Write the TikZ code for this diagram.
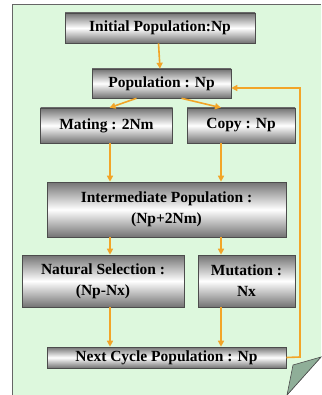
\documentclass[tikz,border=0pt]{standalone}
\usepackage{fontspec}
\setmainfont{Liberation Serif}
\usetikzlibrary{arrows.meta}
\definecolor{pagegreen}{HTML}{DDF8DD}
\definecolor{arr}{HTML}{F2A528}
\definecolor{foldc}{HTML}{8FAE98}
\tikzset{
  box/.style={draw=black!70, line width=0.6pt, top color=black!55, bottom color=black!55, middle color=white,
    font=\bfseries\fontsize{15.5}{17}\selectfont, align=center, inner sep=0pt},
  flow/.style={draw=arr, line width=1.6pt, -{Triangle[length=6pt,width=6pt]}}
}
\begin{document}
\begin{tikzpicture}[x=1pt,y=-1pt]
\useasboundingbox (0,0) rectangle (321,395);
% page
\fill[pagegreen] (12,5) -- (321,5) -- (321,357) -- (287,395) -- (12,395) -- cycle;
\draw[black!60, line width=1pt] (12,395) -- (12,5) -- (321,5);
\draw[black!60, line width=0.6pt] (321,357) -- (287,395);
\filldraw[fill=foldc, draw=black!70, line width=0.6pt] (321,357) -- (293,365) -- (287,395) -- cycle;
% boxes
\node[box, minimum width=190pt, minimum height=30pt] (init) at (160,28) {Initial Population:Np};
\node[box, minimum width=139pt, minimum height=29pt] (pop) at (161.5,83.5) {Population : Np};
\node[box, minimum width=132pt, minimum height=35pt] (mate) at (106.5,125.5) {Mating : 2Nm};
\node[box, minimum width=108pt, minimum height=35pt] (copy) at (241,125.5) {Copy : Np};
\node[box, minimum width=239pt, minimum height=55pt] (inter) at (166.5,209.5) {Intermediate Population :\\[4pt](Np+2Nm)};
\node[box, minimum width=162pt, minimum height=52pt] (nat) at (103,281) {Natural Selection :\\[4pt](Np-Nx)};
\node[box, minimum width=97pt, minimum height=52pt] (mut) at (246.5,281) {Mutation :\\[4pt]Nx};
\node[box, minimum width=239pt, minimum height=21pt] (next) at (166.5,357.5) {Next Cycle Population : Np};
% connectors
\draw[flow] ([xshift=-1.5pt]init.south) -- ([xshift=-1.5pt]pop.north);
\draw[flow] ([xshift=-25pt]pop.south) -- ([xshift=3pt]mate.north);
\draw[flow] ([xshift=20pt]pop.south) -- ([xshift=-20pt]copy.north);
\draw[flow] (mate.south -| 110,0) -- (inter.north -| 110,0);
\draw[flow] (copy.south -| 221,0) -- (inter.north -| 221,0);
\draw[flow] (inter.south -| 110,0) -- (nat.north -| 110,0);
\draw[flow] (inter.south -| 221,0) -- (mut.north -| 221,0);
\draw[flow] (nat.south -| 110,0) -- (next.north -| 110,0);
\draw[flow] (mut.south -| 221,0) -- (next.north -| 221,0);
\coordinate (c1) at (300,357);
\coordinate (c2) at (300,88);
\draw[flow] (next.east) -- (c1) -- (c2) -- (pop.east |- c2);
\end{tikzpicture}
\end{document}
